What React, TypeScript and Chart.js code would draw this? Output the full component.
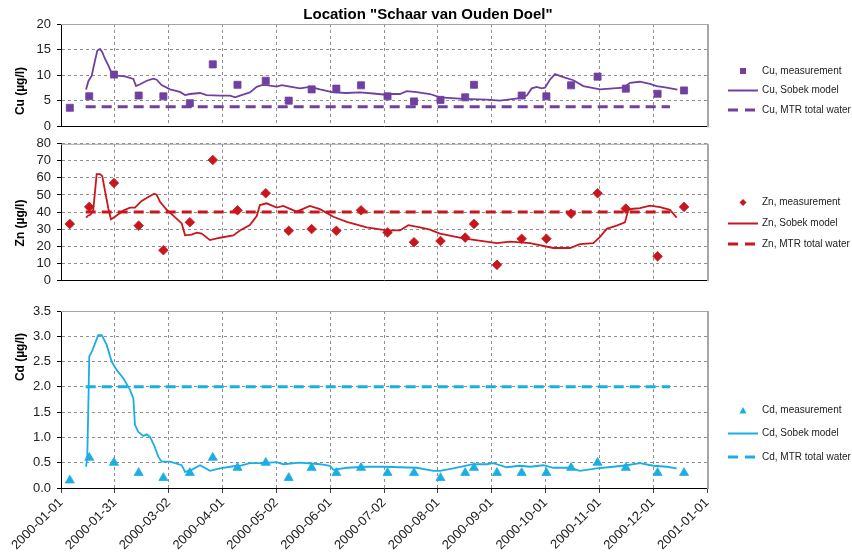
import React, { useEffect, useRef } from 'react';
import { Chart, registerables } from 'chart.js';

Chart.register(...registerables);

const FONT = "'Liberation Sans', Arial, Helvetica, sans-serif";
Chart.defaults.font.family = FONT;

// ---------------- data ----------------
const chartTitle = 'Location "Schaar van Ouden Doel"';

const measureDates = [
  '2000-01-06', '2000-01-17', '2000-01-31', '2000-02-14', '2000-02-28', '2000-03-14',
  '2000-03-27', '2000-04-10', '2000-04-26', '2000-05-09', '2000-05-22', '2000-06-05',
  '2000-06-19', '2000-07-04', '2000-07-19', '2000-08-03', '2000-08-17', '2000-08-22',
  '2000-09-04', '2000-09-18', '2000-10-02', '2000-10-16', '2000-10-31', '2000-11-16',
  '2000-12-04', '2000-12-19',
];
const cuMeasured = [3.6, 5.85, 10.1, 6.0, 5.85, 4.5, 12.1, 8.1, 8.9, 5.0, 7.2, 7.35, 8.0, 5.85, 4.85, 5.15, 5.65, 8.1, null, 6.0, 5.85, 8.0, 9.7, 7.35, 6.35, 7.0];
const znMeasured = [33, 43, 57, 32, 17.6, 34, 70.5, 41, 51, 29, 30, 29, 41, 28, 22.3, 23, 25, 33, 9, 24.3, 24.3, 39, 51, 42, 14, 43];
const cdMeasured = [0.15, 0.6, 0.5, 0.3, 0.2, 0.3, 0.6, 0.4, 0.5, 0.2, 0.4, 0.3, 0.4, 0.3, 0.3, 0.2, 0.3, 0.4, 0.3, 0.3, 0.3, 0.4, 0.5, 0.4, 0.3, 0.3];

// model series: day offsets since 2000-01-01 and values
const cuModelDays = [14.2, 15.5, 17.4, 19.3, 20.6, 22.1, 23.4, 24.9, 26.8, 28.7, 31.6, 36.3, 41, 42.5, 44.8, 48.6, 52.3, 54.2, 57, 61.8, 67.4, 70.3, 73.1, 78.8, 82.5, 90, 95.8, 98.6, 101.4, 107, 110.9, 113.7, 116.5, 122.2, 125, 129.7, 135.4, 141, 146.7, 154.3, 161.9, 169.4, 176.9, 182.6, 188.3, 192, 195.9, 201.5, 209, 214.7, 228, 241.2, 248.7, 260, 263.9, 266.7, 269.5, 272.3, 274.2, 277, 279.9, 284.6, 290.3, 295.9, 305.4, 312.9, 318.6, 322.4, 328, 333.7, 337.5, 343.2, 349.2];
const cuModel = [7.2, 8.8, 9.9, 12.9, 14.8, 15.1, 14.5, 13.2, 11.9, 10.4, 9.9, 9.75, 9.25, 7.85, 8.2, 8.9, 9.3, 9.1, 8.05, 7.2, 6.7, 6.1, 6.3, 6.5, 6.1, 6.0, 6.0, 5.65, 6.0, 6.6, 7.7, 8.05, 8.05, 7.75, 8.05, 7.75, 7.4, 7.7, 7.2, 6.6, 6.5, 6.6, 6.4, 6.2, 6.3, 6.3, 6.85, 6.65, 6.3, 5.65, 5.35, 5.2, 5.0, 5.5, 6.0, 7.4, 7.7, 7.4, 7.55, 9.1, 10.2, 9.6, 9.0, 7.85, 7.2, 7.4, 7.55, 8.5, 8.7, 8.3, 7.85, 7.55, 7.15];

const znModelDays = [14.2, 15.5, 16.8, 18.3, 20.2, 22.1, 23.4, 24.9, 26.8, 28.3, 30.6, 35.3, 39.1, 41.9, 45.7, 49.5, 52.7, 54.2, 56.1, 59.9, 63.6, 68.4, 70.3, 74, 76.9, 79.7, 84.4, 90.1, 97.6, 101.4, 107, 110.9, 112.7, 116.5, 122.2, 125.9, 133.5, 141, 146.7, 154.3, 161.9, 173.2, 184.5, 192, 196.8, 203.4, 209, 214.7, 228, 246.9, 254.4, 265.7, 278.9, 288.4, 294, 301.6, 305.4, 309.2, 314.8, 319.5, 321.4, 324.2, 328, 333.7, 339.4, 345, 348.8];
const znModel = [36.7, 38, 38.5, 41.3, 62.2, 62.2, 61, 52.5, 42.2, 35.7, 37.2, 40.9, 42.6, 42.6, 46.5, 48.8, 50.7, 50.1, 46, 41.3, 37.9, 33.3, 26.3, 26.7, 27.9, 27.3, 23.5, 24.9, 26.3, 29.1, 32.3, 37.6, 44.1, 45.1, 42.6, 43.6, 40.2, 43.6, 41.7, 37.2, 34.2, 31, 29.2, 29.2, 32.3, 31, 29.7, 27.3, 24.5, 21.7, 22.6, 21.7, 18.9, 18.9, 21.1, 21.7, 25.4, 30.1, 32, 33.9, 41.3, 41.9, 42.3, 43.7, 42.8, 41.3, 36.7];

const cdModelDays = [14.2, 14.9, 15.7, 16, 17.4, 19.3, 21.1, 23.1, 25.9, 28.7, 31.6, 35.3, 39.1, 41, 41.9, 43.8, 46.6, 48.6, 50.4, 52.7, 55.1, 57, 61.8, 68.4, 70.3, 74, 78.8, 84.4, 90.1, 97.6, 101.4, 107, 114.6, 122.2, 125.9, 135.4, 146.7, 152.4, 154.3, 161.9, 173.2, 182.6, 192, 201.5, 211, 214.7, 222.3, 233.6, 241.2, 244.9, 252.5, 260, 265.7, 273.3, 278.9, 288.4, 294, 303.5, 312.9, 320.5, 328, 335.6, 343.2, 348.8];
const cdModel = [0.42, 0.62, 2.0, 2.6, 2.69, 2.86, 3.02, 3.02, 2.83, 2.5, 2.33, 2.17, 1.94, 1.77, 1.25, 1.11, 1.03, 1.06, 1.01, 0.85, 0.62, 0.52, 0.52, 0.45, 0.32, 0.36, 0.45, 0.34, 0.39, 0.43, 0.44, 0.49, 0.49, 0.51, 0.47, 0.5, 0.47, 0.44, 0.36, 0.4, 0.42, 0.42, 0.41, 0.4, 0.34, 0.34, 0.39, 0.47, 0.47, 0.49, 0.41, 0.44, 0.42, 0.45, 0.4, 0.4, 0.34, 0.39, 0.42, 0.45, 0.49, 0.44, 0.42, 0.39];

const mtrPeriod = ['2000-01-15', '2000-12-11'];
const cuMtr = 3.8;
const znMtr = 40;
const cdMtr = 2.0;

const cuTicks = [0, 20, 5];
const znTicks = [0, 80, 10];
const cdTicks = [0, 3.5, 0.5];

// ---------------- helpers ----------------
const DAY_MS = 86400000;
const BASE = Date.UTC(2000, 0, 1);
const dayOf = (s: string) => (Date.parse(s + 'T00:00:00Z') - BASE) / DAY_MS;
const fmtDay = (v: number) => new Date(BASE + Math.floor(v + 1e-6) * DAY_MS).toISOString().slice(0, 10);

const pts = (xs: number[], ys: (number | null)[]) =>
  xs.map((x, i) => ({ x, y: ys[i] })).filter((p) => p.y !== null && p.y !== undefined);

type LegendItem = { kind: string; text: string; y: number };

const decorPlugin = {
  id: 'decor',
  beforeDatasetsDraw(chart: any) {
    const { ctx, chartArea: a } = chart;
    ctx.save();
    ctx.strokeStyle = '#a6a6a6';
    ctx.lineWidth = 1;
    ctx.beginPath();
    ctx.moveTo(a.left, a.top + 0.5);
    ctx.lineTo(a.right, a.top + 0.5);
    ctx.stroke();
    ctx.lineWidth = 2;
    ctx.beginPath();
    ctx.moveTo(a.right + 1, a.top);
    ctx.lineTo(a.right + 1, a.bottom + 1);
    ctx.stroke();
    ctx.restore();
  },
  afterDraw(chart: any, _a: any, opts: any) {
    const { ctx } = chart;
    const off = opts.top || 0;
    const color = opts.color;
    ctx.save();
    if (opts.title) {
      ctx.font = `bold 15px ${FONT}`;
      ctx.fillStyle = '#000';
      ctx.textAlign = 'center';
      ctx.textBaseline = 'middle';
      ctx.fillText(opts.title, 428, 15 - off);
    }
    if (opts.yTitle) {
      ctx.save();
      ctx.translate(21, opts.yTitleY - off);
      ctx.rotate(-Math.PI / 2);
      ctx.font = `bold 12px ${FONT}`;
      ctx.fillStyle = '#000';
      ctx.textAlign = 'center';
      ctx.textBaseline = 'middle';
      ctx.fillText(opts.yTitle, 0, 0);
      ctx.restore();
    }
    (opts.items || []).forEach((it: LegendItem) => {
      const y = it.y - off;
      const x0 = 728;
      const x1 = 758;
      const cx = 743;
      ctx.fillStyle = color;
      ctx.strokeStyle = color;
      ctx.setLineDash([]);
      if (it.kind === 'rect') {
        ctx.fillRect(cx - 3, y - 3, 6, 6);
      } else if (it.kind === 'rectRot') {
        ctx.beginPath();
        ctx.moveTo(cx, y - 3.5);
        ctx.lineTo(cx + 3.5, y);
        ctx.lineTo(cx, y + 3.5);
        ctx.lineTo(cx - 3.5, y);
        ctx.closePath();
        ctx.fill();
      } else if (it.kind === 'triangle') {
        ctx.beginPath();
        ctx.moveTo(cx, y - 3.5);
        ctx.lineTo(cx + 3.5, y + 3);
        ctx.lineTo(cx - 3.5, y + 3);
        ctx.closePath();
        ctx.fill();
      } else if (it.kind === 'line') {
        ctx.lineWidth = 2;
        ctx.beginPath();
        ctx.moveTo(x0, y);
        ctx.lineTo(x1, y);
        ctx.stroke();
      } else if (it.kind === 'dash') {
        ctx.lineWidth = 3;
        ctx.setLineDash([10, 7]);
        ctx.beginPath();
        ctx.moveTo(x0, y);
        ctx.lineTo(x1, y);
        ctx.stroke();
        ctx.setLineDash([]);
      }
      ctx.font = `10px ${FONT}`;
      ctx.fillStyle = '#222';
      ctx.textAlign = 'left';
      ctx.textBaseline = 'middle';
      ctx.fillText(it.text, 762, y);
    });
    ctx.restore();
  },
};

type Panel = {
  name: string;
  color: string;
  marker: string;
  markerRadius: number;
  measured: (number | null)[];
  modelDays: number[];
  model: number[];
  mtr: number;
  yTicks: number[];
  decimals: number;
  top: number;
  height: number;
  padTop: number;
  xHeight: number;
  showX: boolean;
  title?: string;
  yTitleY: number;
  legendY: number[];
};

const PANELS: Panel[] = [
  {
    name: 'Cu', color: '#7040a0', marker: 'rect', markerRadius: 5,
    measured: cuMeasured, modelDays: cuModelDays, model: cuModel, mtr: cuMtr,
    yTicks: cuTicks, decimals: 0,
    top: 0, height: 140, padTop: 24, xHeight: 10, showX: false,
    title: chartTitle, yTitleY: 91, legendY: [71, 90.5, 110],
  },
  {
    name: 'Zn', color: '#c8161e', marker: 'rectRot', markerRadius: 4.8,
    measured: znMeasured, modelDays: znModelDays, model: znModel, mtr: znMtr,
    yTicks: znTicks, decimals: 0,
    top: 130, height: 164, padTop: 11, xHeight: 10, showX: false,
    yTitleY: 223, legendY: [202.5, 223.5, 244],
  },
  {
    name: 'Cd', color: '#1aaee5', marker: 'triangle', markerRadius: 5.2,
    measured: cdMeasured, modelDays: cdModelDays, model: cdModel, mtr: cdMtr,
    yTicks: cdTicks, decimals: 1,
    top: 294, height: 258, padTop: 17, xHeight: 64, showX: true,
    yTitleY: 357, legendY: [410.5, 433.5, 457],
  },
];

function makeConfig(p: Panel): any {
  const mDays = measureDates.map(dayOf);
  const mtrDays = mtrPeriod.map(dayOf);
  const tickFont = { size: 13, family: FONT };
  const gridColor = '#8e8e8e';
  return {
    type: 'line',
    data: {
      datasets: [
        {
          label: `${p.name}, measurement`,
          data: pts(mDays, p.measured),
          showLine: false,
          pointStyle: p.marker,
          pointRadius: p.markerRadius,
          pointBackgroundColor: p.color,
          pointBorderColor: p.color,
          pointBorderWidth: 0.8,
          borderColor: p.color,
          backgroundColor: p.color,
        },
        {
          label: `${p.name}, Sobek model`,
          data: pts(p.modelDays, p.model),
          borderColor: p.color,
          borderWidth: 1.8,
          pointRadius: 0,
          tension: 0,
          fill: false,
        },
        {
          label: `${p.name}, MTR total water`,
          data: pts(mtrDays, [p.mtr, p.mtr]),
          borderColor: p.color,
          borderWidth: 3,
          borderDash: [10, 6],
          pointRadius: 0,
          fill: false,
        },
      ],
    },
    options: {
      responsive: false,
      animation: false,
      events: [],
      layout: { padding: { top: p.padTop, right: 145, left: 0, bottom: 0 } },
      plugins: {
        legend: { display: false },
        tooltip: { enabled: false },
        title: { display: false },
        decor: {
          top: p.top,
          color: p.color,
          title: p.title,
          yTitle: `${p.name} (µg/l)`,
          yTitleY: p.yTitleY,
          items: [
            { kind: p.marker, text: `${p.name}, measurement`, y: p.legendY[0] },
            { kind: 'line', text: `${p.name}, Sobek model`, y: p.legendY[1] },
            { kind: 'dash', text: `${p.name}, MTR total water`, y: p.legendY[2] },
          ],
        },
      },
      scales: {
        x: {
          type: 'linear',
          min: 0,
          max: 366,
          afterFit: (s: any) => { s.height = p.xHeight; },
          ticks: {
            stepSize: 30.5,
            display: p.showX,
            autoSkip: false,
            maxRotation: 45,
            minRotation: 45,
            callback: (v: any) => fmtDay(Number(v)),
            font: tickFont,
            color: '#222',
            padding: 2,
          },
          grid: {
            color: gridColor,
            lineWidth: 1,
            drawTicks: p.showX,
            tickLength: 5,
            tickColor: '#404040',
            tickBorderDash: [],
          },
          border: { display: true, color: '#000', width: 1, dash: [3, 3] },
        },
        y: {
          type: 'linear',
          min: p.yTicks[0],
          max: p.yTicks[1],
          afterFit: (s: any) => { s.width = 61; },
          ticks: {
            stepSize: p.yTicks[2],
            autoSkip: false,
            callback: (v: any) => Number(v).toFixed(p.decimals),
            font: tickFont,
            color: '#222',
            padding: 6,
          },
          grid: {
            color: gridColor,
            lineWidth: 1,
            drawTicks: true,
            tickLength: 4,
            tickColor: '#000',
            tickBorderDash: [],
          },
          border: { display: true, color: '#000', width: 1, dash: [3, 3] },
        },
      },
    },
    plugins: [decorPlugin],
  };
}

export default function App() {
  const refs = useRef<(HTMLCanvasElement | null)[]>([]);
  useEffect(() => {
    const charts = PANELS.map((p, i) => new Chart(refs.current[i] as HTMLCanvasElement, makeConfig(p)));
    return () => charts.forEach((c) => c.destroy());
  }, []);
  return (
    <div style={{ position: 'absolute', left: 0, top: 0, width: 852, height: 552, background: '#fff' }}>
      {PANELS.map((p, i) => (
        <canvas
          key={p.name}
          ref={(el) => { refs.current[i] = el; }}
          width={852}
          height={p.height}
          style={{ position: 'absolute', left: 0, top: p.top, display: 'block', width: 852, height: p.height }}
        />
      ))}
    </div>
  );
}
